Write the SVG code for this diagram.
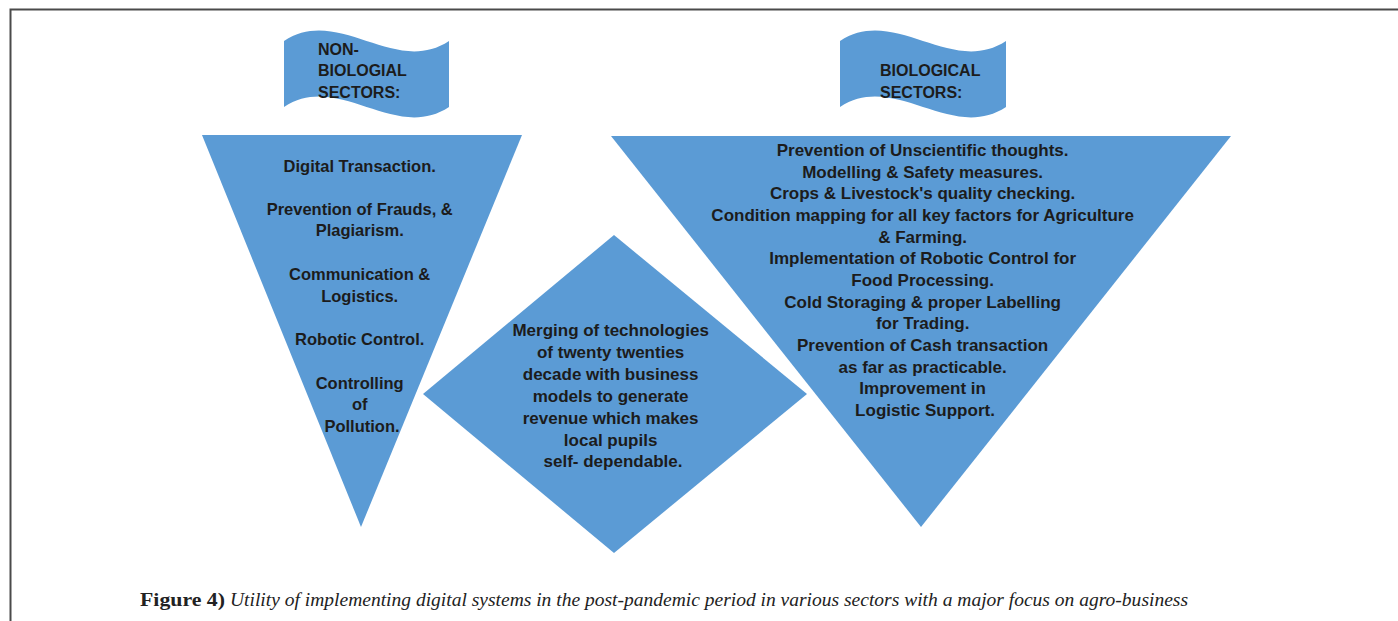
<svg xmlns="http://www.w3.org/2000/svg" width="1398" height="621" viewBox="0 0 1398 621">
  <style>
    .shape { fill: #5b9bd5; }
    .lbl { font-family: "Liberation Sans", Arial, sans-serif; font-weight: bold; fill: #1c1c1c; }
    .mid { text-anchor: middle; }
    .cap-b { font-family: "Liberation Serif", "Times New Roman", serif; font-weight: bold; font-size: 18.5px; fill: #222; }
    .cap-i { font-family: "Liberation Serif", "Times New Roman", serif; font-style: italic; font-size: 18.5px; fill: #222; }
  </style>

  <rect width="1398" height="621" fill="#ffffff"/>

  <!-- frame (top and left rules) -->
  <path d="M10.5,621 V9.5 H1398" fill="none" stroke="#4a4a4a" stroke-width="2"/>

  <!-- wave banners -->
  <g id="banner-nonbio">
    <path class="shape" d="M284,41 C339,5 394,77 449,41 L449,107 C394,143 339,71 284,107 Z"/>
    <text class="lbl" font-size="16">
      <tspan x="318" y="55">NON-</tspan>
      <tspan x="318" y="76">BIOLOGIAL</tspan>
      <tspan x="318" y="97.5">SECTORS:</tspan>
    </text>
  </g>

  <g id="banner-bio">
    <path class="shape" d="M840,41 C895,5 951,77 1006,41 L1006,107 C951,143 895,71 840,107 Z"/>
    <text class="lbl" font-size="16">
      <tspan x="880" y="76">BIOLOGICAL</tspan>
      <tspan x="880" y="97.5">SECTORS:</tspan>
    </text>
  </g>

  <!-- non-biological sectors triangle -->
  <g id="tri-nonbio">
    <polygon class="shape" points="202,135 522,135 361,527"/>
    <text class="lbl mid" font-size="16.5">
      <tspan x="362" y="171.5">Digital Transaction.</tspan>
      <tspan x="362" y="214.5">Prevention of Frauds, &amp;</tspan>
      <tspan x="362" y="236">Plagiarism.</tspan>
      <tspan x="362" y="279.5">Communication &amp;</tspan>
      <tspan x="362" y="301.5">Logistics.</tspan>
      <tspan x="362" y="344.5">Robotic Control.</tspan>
      <tspan x="362" y="388.5">Controlling</tspan>
      <tspan x="362" y="409.5">of</tspan>
      <tspan x="362" y="431.5">Pollution.</tspan>
    </text>
  </g>

  <!-- central diamond -->
  <g id="diamond-merge">
    <polygon class="shape" points="614,235 807,394 614,553 423,394"/>
    <text class="lbl mid" font-size="17">
      <tspan x="613" y="336">Merging of technologies</tspan>
      <tspan x="613" y="358">of twenty twenties</tspan>
      <tspan x="613" y="380">decade with business</tspan>
      <tspan x="613" y="402">models to generate</tspan>
      <tspan x="613" y="424">revenue which makes</tspan>
      <tspan x="613" y="445.5">local pupils</tspan>
      <tspan x="613" y="467">self- dependable.</tspan>
    </text>
  </g>

  <!-- biological sectors triangle -->
  <g id="tri-bio">
    <polygon class="shape" points="611,136 1231,136 921,527"/>
    <text class="lbl mid" font-size="17">
      <tspan x="925" y="156">Prevention of Unscientific thoughts.</tspan>
      <tspan x="925" y="177.7">Modelling &amp; Safety measures.</tspan>
      <tspan x="925" y="199.3">Crops &amp; Livestock's quality checking.</tspan>
      <tspan x="925" y="221">Condition mapping for all key factors for Agriculture</tspan>
      <tspan x="925" y="242.7">&amp; Farming.</tspan>
      <tspan x="925" y="264.3">Implementation of Robotic Control for</tspan>
      <tspan x="925" y="286">Food Processing.</tspan>
      <tspan x="925" y="307.7">Cold Storaging &amp; proper Labelling</tspan>
      <tspan x="925" y="329.3">for Trading.</tspan>
      <tspan x="925" y="351">Prevention of Cash transaction</tspan>
      <tspan x="925" y="372.7">as far as practicable.</tspan>
      <tspan x="925" y="394.3">Improvement in</tspan>
      <tspan x="925" y="416">Logistic Support.</tspan>
    </text>
  </g>

  <!-- connectors: none drawn -->
  <g id="connectors"></g>

  <!-- caption -->
  <text class="cap-b" x="140" y="606" textLength="85" lengthAdjust="spacingAndGlyphs">Figure 4)</text>
  <text class="cap-i" x="230" y="606" textLength="958" lengthAdjust="spacingAndGlyphs">Utility of implementing digital systems in the post-pandemic period in various sectors with a major focus on agro-business</text>
</svg>
